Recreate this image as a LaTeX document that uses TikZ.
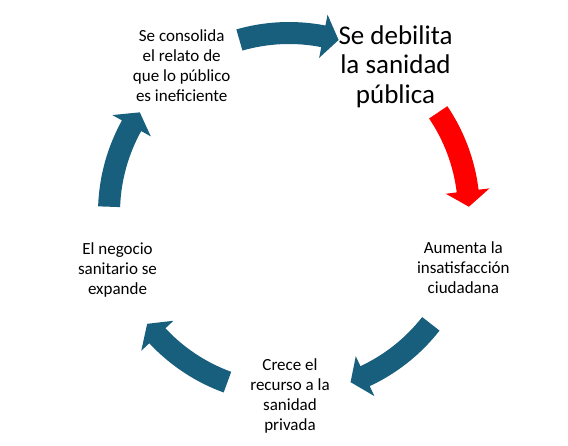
\documentclass[tikz,border=0pt]{standalone}
\usepackage{fontspec}
\setmainfont{Carlito}
\definecolor{cycblue}{RGB}{24,95,126}
\definecolor{cycred}{RGB}{255,0,0}
\newcommand\cycArrow[3]{%
  \pgfmathsetmacro\cycHb{#2-5}%
  \fill[#3] (#1:169) -- (#1:191) arc[start angle=#1, end angle=\cycHb, radius=191]
    -- (\cycHb:202) -- (#2:180) -- (\cycHb:158) -- (\cycHb:169)
    arc[start angle=\cycHb, end angle=#1, radius=169] -- cycle;}
\tikzset{
  lbl/.style={align=center, inner sep=0pt, font=\fontsize{17}{20}\selectfont},
  biglbl/.style={align=center, inner sep=0pt, font=\fontsize{27}{29.5}\selectfont}
}
\begin{document}
\begin{tikzpicture}[x=1pt,y=-1pt]
\useasboundingbox (0,0) rectangle (568,445);
\fill[white] (0,0) rectangle (568,445);
\coordinate (C) at (289,213);
\begin{scope}[shift={(C)}]
  \cycArrow{254}{286}{cycblue}
  \cycArrow{326}{358}{cycred}
  \cycArrow{38}{70}{cycblue}
  \cycArrow{110}{142}{cycblue}
  \cycArrow{182}{214}{cycblue}
\end{scope}
\node[lbl] (consolida) at (181.7,66) {Se consolida\\el relato de\\que lo público\\es ineficiente};
\node[biglbl] (debilita) at (395.5,66.5) {Se debilita\\la sanidad\\pública};
\node[lbl] (aumenta) at (463.3,268) {Aumenta la\\insatisfacción\\ciudadana};
\node[lbl] (crece) at (290,396.4) {Crece el\\recurso a la\\sanidad\\privada};
\node[lbl] (negocio) at (117.5,270.4) {El negocio\\sanitario se\\expande};
\end{tikzpicture}
\end{document}
